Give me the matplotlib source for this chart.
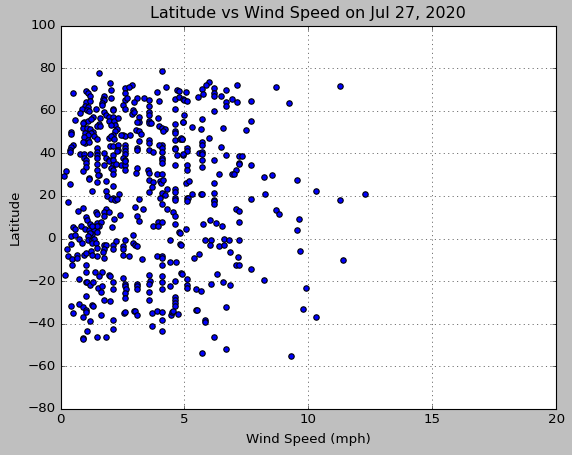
import matplotlib
matplotlib.use("Agg")
import matplotlib.pyplot as plt

plt.style.use("classic")

# (wind speed mph, latitude)
right_upper = [(11.29,71.5),(8.71,71.05),(7.11,72),(6.0,73.4),(5.85,72),(5.69,70.1),(5.08,68.7),(6.21,70.6),(6.21,68.2),(6.21,66.8),(6.69,69.6),(5.73,67.8),(5.56,66.3),(6.49,66.8),(5.0,64.9),(5.12,64.5),(6.9,65.4),(6.69,64),(6.69,62.1),(7.1,64),(7.7,64.5),(9.23,63.5),(6.21,59.7),(5,57.9),(5.69,56),(4.96,54.6),(7.7,55),(5.32,52.2),(5.65,51.3),(6.57,51.7),(7.5,50.8),(4.87,47),(4.92,46.6),(6,47.3),(5.69,45.1),(5.69,43.7),(6.49,42.8),(5.12,42.3),(5.12,40.9),(4.96,39.5),(5.6,40),(5.69,40.4),(5.69,39.5),(6.69,39),(7.22,38.6),(7.34,38.6),(6.21,37.1),(5.69,36.7),(5.12,34.3),(5.12,32.4),(5.69,33.4),(7.22,35.3),(7.22,34.8),(7.7,34.3),(7.06,32),(6.41,30.1),(6.9,30.5),(6.98,30.1),(8.19,28.7),(8.55,29.6),(9.52,27.7),(5.08,26.3),(5.2,26.8),(6.21,26.3),(5.32,21.1),(5.65,21.1),(5.69,21.1),(6.21,21.6),(8.23,21.1),(10.32,22.1),(12.3,20.7),(11.29,18.3),(7.7,18.8),(5.12,19.2),(5.16,19.2),(5.12,17.4),(6.21,18.3),(6.21,17.4),(6.21,16.4)]
right_lower = [(7.06,13.7),(7.22,12.7),(8.71,13.2),(8.83,11.3),(9.64,9.4),(6.05,8.5),(7.22,8),(6.29,7.1),(5.73,6.6),(6.53,6.1),(5.08,4.7),(9.52,3.8),(4.81,2.8),(5.81,-0.9),(6.09,-0.9),(6.61,0),(6.81,-0.9),(7.22,-0.9),(6.05,-2.8),(6.41,-3.3),(6.61,-2.8),(4.87,-2.8),(6.85,-6.1),(9.68,-5.7),(5.6,-7.1),(5.4,-8.9),(7.18,-8.5),(7.06,-12.2),(7.22,-12.2),(7.7,-14.1),(11.41,-9.9),(4.89,-16.5),(6.33,-16.5),(5.12,-18.8),(8.19,-19.3),(5.12,-21.7),(5.12,-23.1),(6.09,-21.2),(6.57,-20.3),(6.85,-21.7),(5.48,-23.5),(5.65,-24.5),(9.92,-23.1),(6.69,-32),(9.8,-33),(10.32,-36.7),(5.48,-33.4),(5.52,-33.4),(5.81,-38.1),(5.81,-39.1),(6.21,-46.2),(6.69,-51.8),(5.69,-53.7),(9.31,-55.1)]
left_upper = [(1.57,77.6),(4.11,78.6),(1.98,72.9),(2.9,72),(4.27,71),(0.52,68.2),(1.01,69.2),(1.09,68.2),(1.37,70.6),(2.02,69.6),(2.62,70.6),(2.78,71),(2.62,68.2),(3.91,68.7),(4.68,69.6),(4.76,69.2),(1.77,66.8),(1.21,66.8),(2.02,65.9),(1.73,65.4),(1.77,64.9),(1.69,63.5),(1.69,62.6),(1.01,64),(1.21,64.5),(2.62,64.9),(2.7,65.9),(3.1,65.9),(3.35,65.9),(2.98,64),(3.59,64.9),(3.59,62.1),(3.99,64.5),(4.6,65.4),(4.76,66.3),(4.96,65.4),(2.54,62.6),(2.62,60.7),(0.97,62.1),(1.09,61.6),(0.85,60.7),(1.45,60.7),(2.1,60.7),(2.1,60.2),(4.6,60.7),(1.05,60.2),(1.13,59.7),(0.77,58.8),(1.77,59.3),(1.85,57.9),(2.94,60.2),(2.9,58.3),(2.98,59.3),(3.59,59.3),(3.59,57.9),(3.59,55),(3.59,54.1),(3.67,54.1),(3.15,56.9),(3.15,54.6),(3.1,54.6),(3.95,56.5),(1.61,56.5),(1.33,56.9),(0.6,55.5),(0.93,54.6),(1.09,55),(1.25,56),(1.57,53.6),(1.94,56.9),(2.1,56.9),(1.94,55),(2.14,55),(2.3,56.5),(2.18,53.2),(2.02,53.2),(4.6,53.6),(4.96,54.6),(0.89,51.7),(1.05,51.7),(0.89,54.1),(1.17,51.3),(1.33,49.9),(1.25,49.4),(1.49,52.7),(1.61,52.7),(2.26,51.3),(2.18,50.3),(2.1,48.4),(1.94,47),(2.02,48),(0.44,49.9),(0.44,49),(0.97,49.4),(1.09,48.4),(1.37,48),(1.49,46.6),(0.93,47.5),(1.09,46.1),(0.97,44.7),(1.13,45.1),(0.89,45.1),(2.54,48.4),(2.62,48),(2.82,48.4),(2.46,48.4),(3.03,50.8),(3.15,50.3),(3.23,49),(3.99,52.7),(4.11,51.7),(4.23,51.3),(4.15,50.3),(4.6,50.3),(4.6,49.4),(4.6,46.1),(4.84,46.6),(4.92,46.6),(3.59,46.1),(3.59,44.7),(3.15,45.6),(2.14,46.6),(0.52,43.7),(0.44,42.8),(0.4,41.4),(0.4,40.4),(1.98,43.3),(2.1,43.3),(2.3,43.7),(2.62,43.7),(2.62,42.3),(1.49,42.3),(1.49,40.4),(2.3,41.4),(1.77,40),(2.1,39),(2.62,40.9),(2.62,39.5),(3.1,42.3),(3.07,41.4),(3.59,41.4),(3.75,40.4),(4.11,43.7),(3.99,43.7),(4.11,42.3),(4.11,40.4),(4.11,38),(4.11,36.7),(4.11,35.3),(4.6,42.3),(4.6,41.8),(4.68,39),(4.96,39),(4.6,34.3),(0.77,39.5),(0.93,39.5),(0.93,37.6),(1.17,39.5),(1.01,36.7),(1.01,35.3),(1.01,33.4),(1.49,39),(1.49,37.6),(1.49,34.8),(1.49,32.4),(1.85,38),(1.94,37),(1.94,36.2),(2.1,37),(2.1,34.3),(2.26,40.9),(2.54,37.6),(2.62,37),(2.46,34.3),(2.62,34.3),(2.62,32.4),(2.62,36.2),(1.77,34.3),(2.02,32.9),(2.1,32.4),(2.1,30.5),(2.22,34.8),(0.89,31.5),(1.57,29.6),(3.07,32.9),(3.03,31),(3.51,32),(3.59,31),(3.91,30.5),(4.11,30.5),(1.13,28.2),(0.24,31.5),(0.16,29.2)]
left_lower = [(0.4,25.5),(1.13,27.9),(1.49,26.4),(1.53,29.6),(1.82,26.9),(2.1,24.6),(1.29,22.2),(1.82,22.2),(2.34,20.8),(1.89,19.9),(2.1,18.9),(2.02,18.4),(2.18,18),(2.26,18.4),(0.32,17),(3.15,18.4),(3.59,27.4),(3.75,26.5),(3.55,21.7),(3.71,24.1),(4.03,26.9),(4.07,26),(4.15,27.4),(4.31,23.2),(4.6,23.2),(4.6,21.7),(4.11,21.3),(4.03,18.9),(4.23,20.3),(4.11,16.1),(4.6,18.9),(4.6,18),(3.02,14.7),(3.31,13.7),(4.31,13.7),(4.52,12.3),(4.6,10.4),(0.69,12.8),(0.89,14.2),(1.45,12.3),(1.49,11.4),(1.85,13.7),(1.77,12.3),(1.94,12.3),(1.77,10.4),(1.01,10),(1.05,8.6),(1.17,6.7),(1.49,7.1),(1.65,7.6),(1.57,5.7),(2.38,10.9),(2.14,9),(3.1,10.4),(3.15,8.1),(3.75,5.7),(3.95,7.6),(4.11,7.6),(3.95,5.7),(4.6,6.7),(4.76,2.9),(2.06,5.3),(0.52,5.3),(0.81,5.7),(0.6,4.3),(0.97,4.3),(1.13,3.8),(1.37,3.8),(1.49,5.7),(1.29,5.7),(1.29,2),(1.49,2.9),(1.17,2.4),(0.44,1),(0.6,1.5),(0.73,0),(1.09,1),(1.09,-0.9),(1.29,-0.9),(1.37,-0.4),(1.29,-2.3),(1.45,-2.3),(1.49,-4.6),(0.44,-2.7),(0.85,-2.3),(0.28,-5.1),(2.94,1.5),(2.94,-2.3),(3.02,-3.2),(3.07,-3.7),(1.77,-2.8),(1.82,-3.2),(1.77,-5.1),(2.1,-3.2),(2.1,-5.1),(2.22,-1.3),(2.62,-0.9),(2.54,-3.7),(2.54,-5.1),(2.54,-7.9),(2.78,-8.4),(4.4,-0.9),(4.84,-2.7),(0.32,-8.4),(0.48,-9.8),(0.65,-7.5),(0.65,-9.3),(0.48,-12.6),(0.93,-7.5),(1.01,-7),(1.25,-6),(1.49,-8.4),(1.29,-7.9),(1.73,-6.5),(1.77,-8.9),(1.01,-12.2),(3.27,-9.8),(3.91,-8.4),(4.11,-8.4),(4.11,-8.9),(4.11,-12.2),(4.4,-11.2),(4.64,-10.8),(4.88,-16.4),(0.2,-17.3),(1.01,-15.9),(1.41,-15.5),(1.69,-15.9),(1.57,-17.8),(1.94,-17.3),(1.98,-17.8),(2.54,-18.3),(0.73,-19.2),(1.01,-20.6),(1.05,-20.6),(1.21,-21.6),(1.33,-20.2),(1.53,-23),(1.69,-22.5),(1.65,-24.9),(2.1,-20.6),(2.1,-23.9),(2.62,-21.1),(2.62,-22.5),(2.66,-23.9),(2.62,-25.4),(2.62,-27.7),(3.1,-21.1),(3.1,-22.5),(3.1,-23.9),(3.59,-16.9),(3.63,-19.7),(3.59,-21.1),(3.59,-24.9),(3.59,-28.7),(4.11,-17.8),(4.11,-20.6),(4.11,-23.9),(4.4,-22.5),(4.6,-19.7),(4.6,-27.2),(4.6,-28.7),(4.6,-30.1),(4.6,-31.5),(1.01,-26.8),(1.77,-28.7),(1.98,-29.1),(0.73,-30.5),(0.44,-31.5),(0.89,-31.9),(1.29,-31),(1.33,-31.5),(1.01,-33.4),(1.01,-34.3),(0.52,-34.8),(0.89,-36.7),(1.65,-35.7),(1.21,-38.5),(2.58,-34.8),(2.62,-34.3),(2.98,-33.8),(3.02,-33.8),(3.1,-35.7),(3.71,-34.8),(3.91,-33.8),(4.11,-34.3),(4.44,-35.7),(4.48,-34.3),(4.52,-33.8),(4.72,-35.2),(2.1,-38.1),(4.11,-38.1),(3.71,-40.9),(4.11,-43.2),(2.1,-42.3),(1.05,-43.2),(0.89,-46.6),(0.89,-47),(1.49,-46.1),(1.82,-46.1)]

points = left_upper + left_lower + right_upper + right_lower
wind = [p[0] for p in points]
lat = [p[1] for p in points]

W, H = 572, 455
fig = plt.figure(figsize=(W/80, H/80), dpi=80)
ax = fig.add_axes([60.5/W, 1-409/H, 495.8/W, 383.5/H])
ax.scatter(wind, lat, c="b", marker="o", s=24, edgecolors="k")
ax.set_xlim(0, 20)
ax.set_ylim(-80, 100)
ax.set_title("Latitude vs Wind Speed on Jul 27, 2020", pad=7)
ax.set_xlabel("Wind Speed (mph)", labelpad=6)
ax.set_ylabel("Latitude")
ax.grid(True)
fig.savefig("out.png", dpi=80, facecolor=fig.get_facecolor())
